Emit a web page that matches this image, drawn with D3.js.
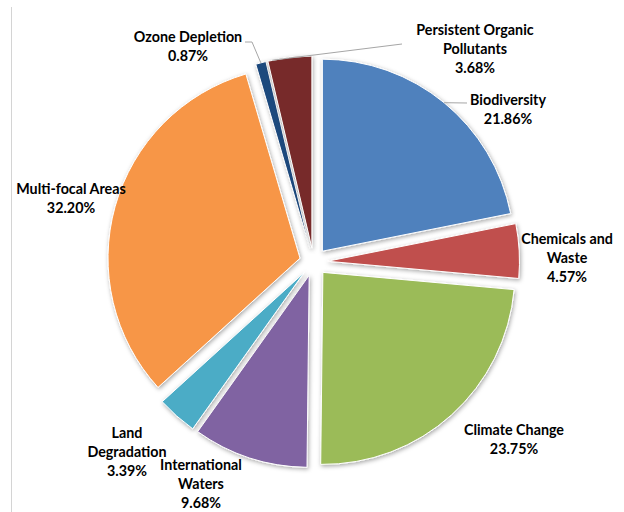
<!DOCTYPE html>
<html>
<head>
<meta charset="utf-8">
<script src="https://cdn.jsdelivr.net/npm/d3@7"></script>
<style>
  html, body { margin: 0; padding: 0; background: #ffffff; }
  svg { display: block; }
  text { font-family: Lato, "Open Sans", sans-serif; font-weight: 700; }
</style>
</head>
<body>
<svg id="chart" width="624" height="512"></svg>
<script>
// ---- data ----
const categories = ["Biodiversity", "Chemicals and Waste", "Climate Change", "International Waters",
  "Land Degradation", "Multi-focal Areas", "Ozone Depletion", "Persistent Organic Pollutants"];
const shares = [21.86, 4.57, 23.75, 9.68, 3.39, 32.20, 0.87, 3.68];
const labelNameLines = [["Biodiversity"], ["Chemicals and", "Waste"], ["Climate Change"],
  ["International", "Waters"], ["Land", "Degradation"], ["Multi-focal Areas"],
  ["Ozone Depletion"], ["Persistent Organic", "Pollutants"]];
const sliceColors = ["#4F81BD", "#C0504D", "#9BBB59", "#8064A2", "#4BACC6", "#F79646", "#1F497D", "#772C2A"];

// ---- layout (positions, not data) ----
const cx = 313.5, cy = 262, radius = 192, explode = 14;
const labelPos = [[508, 100], [567, 239], [514, 430], [201, 465], [127, 433], [71, 189], [188, 37], [475, 30]];
const lineH = 19;
// leader lines: fraction within slice for anchor, then label-side points
const leaders = [
  { i: 0, frac: 0.5, pts: [[467, 103]] },
  { i: 6, frac: 0.5, pts: [[252, 42], [245, 42]] },
  { i: 7, frac: 0.1, pts: [[402, 44]] }
];

const svg = d3.select("#chart");

// frame line at left
svg.append("line").attr("x1", 11.5).attr("x2", 11.5).attr("y1", 7).attr("y2", 512)
  .attr("stroke", "#d4d4d4").attr("stroke-width", 1);

const defs = svg.append("defs");
const f = defs.append("filter").attr("id", "shadow").attr("x", "-20%").attr("y", "-20%").attr("width", "140%").attr("height", "140%");
f.append("feDropShadow").attr("dx", 1).attr("dy", 1.5).attr("stdDeviation", 2)
  .attr("flood-color", "#000").attr("flood-opacity", 0.35);

const pie = d3.pie().sort(null).value(d => d).startAngle(0).endAngle(2 * Math.PI);
const arcs = pie(shares);
const arcGen = d3.arc().innerRadius(0).outerRadius(radius);

function offsetOf(a) {
  const mid = (a.startAngle + a.endAngle) / 2;
  return [explode * Math.sin(mid), -explode * Math.cos(mid)];
}

const g = svg.append("g").attr("transform", `translate(${cx},${cy})`);

// leader lines (under slices)
const leaderG = svg.append("g");
leaders.forEach(L => {
  const a = arcs[L.i];
  const ang = a.startAngle + (a.endAngle - a.startAngle) * L.frac;
  const [ox, oy] = offsetOf(a);
  const p0 = [cx + ox + radius * Math.sin(ang), cy + oy - radius * Math.cos(ang)];
  const pts = [p0].concat(L.pts);
  leaderG.append("path").attr("d", d3.line()(pts))
    .attr("fill", "none").attr("stroke", "#a6a6a6").attr("stroke-width", 1);
});

g.selectAll("path.slice").data(arcs).enter().append("path")
  .attr("class", "slice")
  .attr("d", arcGen)
  .attr("transform", d => { const [ox, oy] = offsetOf(d); return `translate(${ox},${oy})`; })
  .attr("fill", (d, i) => sliceColors[i])
  .attr("stroke", "#ffffff").attr("stroke-width", 1)
  .attr("filter", "url(#shadow)");

// labels
const fmt = d3.format(".2f");
const labels = svg.append("g");
shares.forEach((v, i) => {
  const lines = labelNameLines[i].concat([fmt(v) + "%"]);
  const [lx, ly] = labelPos[i];
  const t = labels.append("text").attr("text-anchor", "middle")
    .attr("font-size", 14.3).attr("fill", "#000");
  lines.forEach((s, k) => {
    t.append("tspan").attr("x", lx).attr("y", ly + k * lineH).attr("dy", "0.35em").text(s);
  });
});
</script>
</body>
</html>
